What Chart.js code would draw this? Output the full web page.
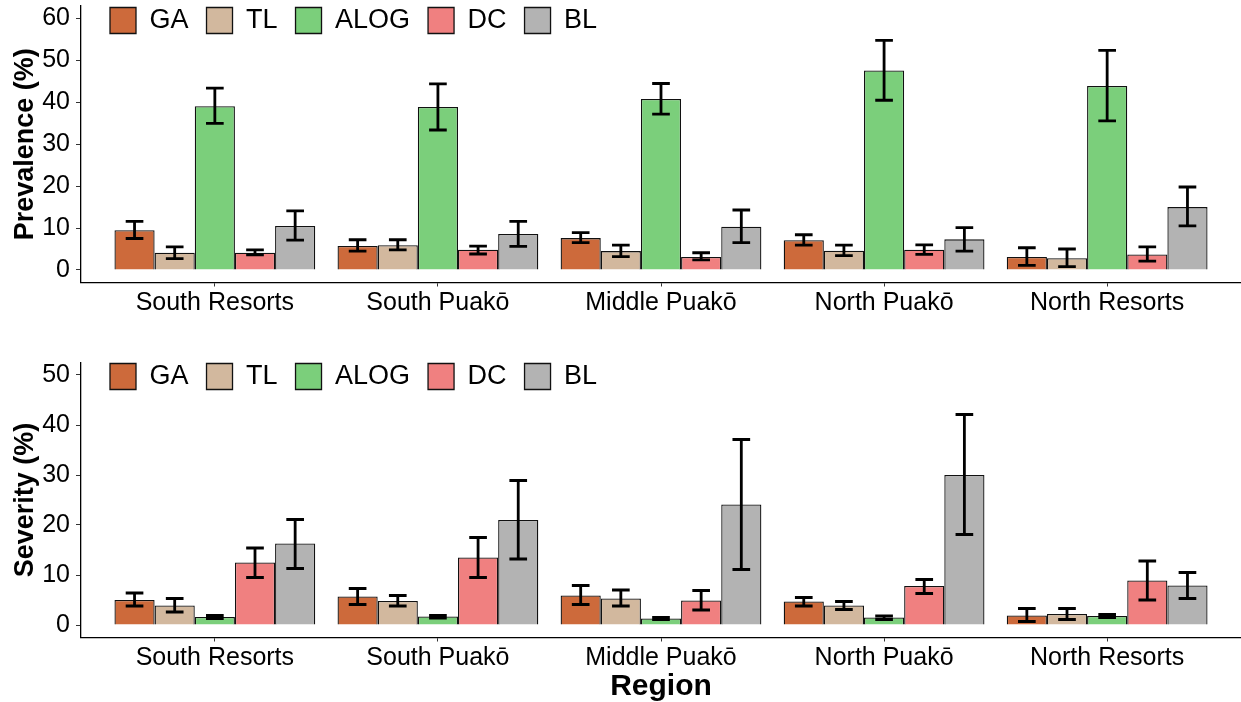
<!DOCTYPE html>
<html><head><meta charset="utf-8">
<script src="https://cdn.jsdelivr.net/npm/chart.js@4.4.1/dist/chart.umd.min.js"></script>
<style>
html,body{margin:0;padding:0;background:#fff;}
#wrap{position:relative;width:1241px;height:702px;overflow:hidden;background:#fff;}
canvas{position:absolute;left:0;}
#c1{top:0;} #c2{top:345px;}
</style></head><body>
<div id="wrap"><canvas id="c1" width="1241" height="330"></canvas><canvas id="c2" width="1241" height="357"></canvas></div>
<script>
// ---- data ----
const regions = ['South Resorts', 'South Puak\u014d', 'Middle Puak\u014d', 'North Puak\u014d', 'North Resorts'];
const seriesNames = ['GA', 'TL', 'ALOG', 'DC', 'BL'];
const seriesColors = ['#CD6A3B', '#D2B89E', '#7BCF7B', '#F08080', '#B3B3B3'];

// Prevalence (%)
const prevGA    = [9.5, 5.7, 7.6, 7.1, 3.1];
const prevGALo  = [7.5, 4.5, 6.5, 5.9, 1.1];
const prevGAHi  = [11.6, 7.2, 8.9, 8.4, 5.3];
const prevTL    = [4.1, 5.9, 4.5, 4.6, 2.8];
const prevTLLo  = [2.7, 4.8, 3.2, 3.4, 0.8];
const prevTLHi  = [5.5, 7.2, 5.9, 5.9, 5.0];
const prevALOG  = [39.1, 38.9, 40.8, 47.6, 43.9];
const prevALOGLo= [35.0, 33.4, 37.2, 40.5, 35.6];
const prevALOGHi= [43.4, 44.4, 44.5, 54.8, 52.4];
const prevDC    = [4.1, 4.8, 3.1, 4.8, 3.7];
const prevDCLo  = [3.6, 3.8, 2.4, 3.7, 2.1];
const prevDCHi  = [4.8, 5.7, 4.1, 6.0, 5.5];
const prevBL    = [10.5, 8.6, 10.3, 7.3, 15.0];
const prevBLLo  = [7.1, 5.6, 6.5, 4.5, 10.5];
const prevBLHi  = [14.1, 11.6, 14.3, 10.1, 19.8];

// Severity (%)
const sevGA     = [5.0, 5.7, 5.9, 4.7, 1.9];
const sevGALo   = [3.8, 4.1, 4.1, 3.8, 0.7];
const sevGAHi   = [6.4, 7.3, 7.9, 5.5, 3.3];
const sevTL     = [3.9, 4.8, 5.3, 3.9, 2.2];
const sevTLLo   = [2.6, 3.8, 3.8, 3.1, 1.1];
const sevTLHi   = [5.3, 5.9, 7.0, 4.7, 3.3];
const sevALOG   = [1.6, 1.7, 1.3, 1.5, 1.8];
const sevALOGLo = [1.3, 1.4, 1.1, 1.1, 1.5];
const sevALOGHi = [1.9, 1.9, 1.5, 1.8, 2.1];
const sevDC     = [12.5, 13.5, 4.9, 7.8, 8.9];
const sevDCLo   = [9.5, 9.5, 3.0, 6.3, 5.0];
const sevDCHi   = [15.4, 17.5, 6.9, 9.1, 12.8];
const sevBL     = [16.3, 21.0, 24.1, 30.0, 7.9];
const sevBLLo   = [11.3, 13.2, 11.1, 18.1, 5.3];
const sevBLHi   = [21.1, 28.9, 37.1, 42.1, 10.5];

const prevTicks = [0, 10, 20, 30, 40, 50, 60];
const sevTicks  = [0, 10, 20, 30, 40, 50];

// ---- helpers ----
const FONT = '"Liberation Sans", Arial, Helvetica, sans-serif';

const errorBarPlugin = {
  id: 'errorBars',
  afterDatasetsDraw(chart) {
    const ctx = chart.ctx;
    const ys = chart.scales.y;
    ctx.save();
    ctx.strokeStyle = '#000';
    ctx.lineWidth = 2.8;
    ctx.lineCap = 'butt';
    chart.data.datasets.forEach((ds, di) => {
      const meta = chart.getDatasetMeta(di);
      meta.data.forEach((bar, i) => {
        const x = bar.x;
        const yl = ys.getPixelForValue(ds.errLo[i]);
        const yh = ys.getPixelForValue(ds.errHi[i]);
        const hw = bar.width * 0.22;
        ctx.beginPath();
        ctx.moveTo(x, yl); ctx.lineTo(x, yh);
        ctx.moveTo(x - hw, yl); ctx.lineTo(x + hw, yl);
        ctx.moveTo(x - hw, yh); ctx.lineTo(x + hw, yh);
        ctx.stroke();
      });
    });
    ctx.restore();
  }
};

// legend is laid out by Chart.js but takes no layout space; it is placed inside the panel
const legendInside = {
  id: 'legendInside',
  beforeLayout(chart) {
    const l = chart.legend;
    if (l && !l._noSpace) {
      const f = l.fit.bind(l);
      l.fit = function () { f(); this._realHeight = this.height; this.height = 0; };
      l._noSpace = true;
    }
  },
  afterLayout(chart, args, opts) {
    const l = chart.legend;
    if (!l) return;
    const h = l._realHeight || 60;
    l.left = opts.left;
    l.top = opts.top;
    l.height = h;
    l.bottom = l.top + h;
    l.right = chart.width;
    l.width = l.right - l.left;
  }
};

function makeDatasets(vals, los, his) {
  return seriesNames.map((name, s) => ({
    label: name,
    data: vals[s].map((v, i) => ({ x: i, y: v })),
    errLo: los[s],
    errHi: his[s],
    backgroundColor: seriesColors[s],
    borderColor: '#111',
    borderWidth: 1.3,
    categoryPercentage: 0.9,
    barPercentage: 1.0
  }));
}

function makeChart(id, datasets, yMin, yMax, yTicks, yTitle, xTitle, padTop, xHeight, legTop) {
  return new Chart(document.getElementById(id), {
    type: 'bar',
    data: { datasets },
    plugins: [errorBarPlugin, legendInside],
    options: {
      responsive: false,
      animation: false,
      devicePixelRatio: 1,
      layout: { padding: { top: padTop, left: 0, right: 0, bottom: 0 } },
      plugins: {
        tooltip: { enabled: false },
        legendInside: { left: 92, top: legTop },
        legend: {
          position: 'top',
          align: 'start',
          labels: {
            boxWidth: 26, boxHeight: 26, padding: 18,
            color: '#000',
            font: { family: FONT, size: 27 }
          }
        }
      },
      scales: {
        x: {
          type: 'linear',
          min: -0.6, max: regions.length - 1 + 0.6,
          offset: false,
          afterBuildTicks: (s) => { s.ticks = regions.map((_, i) => ({ value: i })); },
          afterFit: (s) => { s.height = xHeight; s.paddingLeft = 0; s.paddingRight = 0; },
          ticks: {
            autoSkip: false, maxRotation: 0, minRotation: 0,
            padding: 2,
            color: '#000',
            font: { family: FONT, size: 25 },
            callback: (v) => regions[v]
          },
          grid: { display: true, offset: false, drawOnChartArea: false, drawTicks: true, tickLength: 4, tickColor: '#333', tickWidth: 1 },
          border: { display: true, color: '#000', width: 1.3 },
          title: xTitle ? { display: true, text: xTitle, color: '#000', font: { family: FONT, size: 30, weight: 'bold', lineHeight: 1 }, padding: { top: 0, bottom: 0 } } : { display: false }
        },
        y: {
          min: yMin, max: yMax,
          afterBuildTicks: (s) => { s.ticks = yTicks.map(v => ({ value: v })); },
          afterFit: (s) => { s.width = 81; s.paddingTop = 0; s.paddingBottom = 0; },
          ticks: { padding: 6, color: '#000', font: { family: FONT, size: 25 } },
          grid: { display: true, offset: false, drawOnChartArea: false, drawTicks: true, tickLength: 5, tickColor: '#333', tickWidth: 1 },
          border: { display: true, color: '#000', width: 1.3 },
          title: { display: true, text: yTitle, color: '#000', font: { family: FONT, size: 27, weight: 'bold', lineHeight: 1 }, padding: { top: 12, bottom: 0 } }
        }
      }
    }
  });
}

makeChart('c1',
  makeDatasets([prevGA, prevTL, prevALOG, prevDC, prevBL],
               [prevGALo, prevTLLo, prevALOGLo, prevDCLo, prevBLLo],
               [prevGAHi, prevTLHi, prevALOGHi, prevDCHi, prevBLHi]),
  -3, 63, prevTicks, 'Prevalence (%)', null, 6, 47.5, -11);

makeChart('c2',
  makeDatasets([sevGA, sevTL, sevALOG, sevDC, sevBL],
               [sevGALo, sevTLLo, sevALOGLo, sevDCLo, sevBLLo],
               [sevGAHi, sevTLHi, sevALOGHi, sevDCHi, sevBLHi]),
  -2.5, 52.5, sevTicks, 'Severity (%)', 'Region', 17.5, 64.5, 0);
</script>
</body></html>
